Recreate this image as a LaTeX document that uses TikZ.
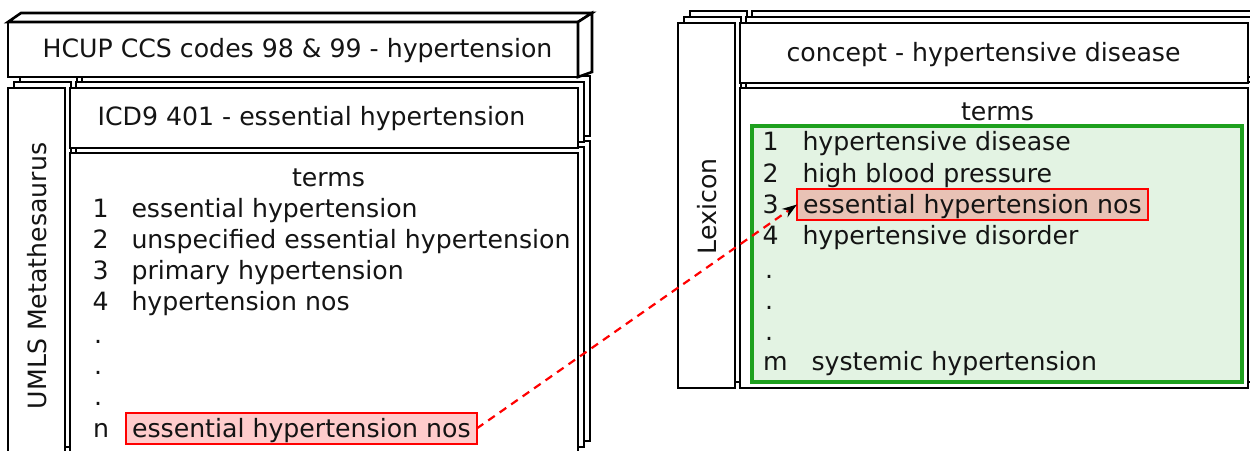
\documentclass[tikz,border=0pt]{standalone}
\usepackage{fontspec}
\setmainfont{DejaVu Sans}
\usetikzlibrary{shadows,arrows.meta}
\definecolor{grnline}{RGB}{30,160,30}
\definecolor{grnfill}{RGB}{227,243,227}
\definecolor{ink}{RGB}{20,20,20}
\begin{document}
\begin{tikzpicture}[x=1pt,y=-1pt,
  txt/.style={font=\fontsize{25.2pt}{30pt}\selectfont, inner sep=0pt, outer sep=0pt, anchor=base west, text=ink},
  box/.style={draw=black, line width=2.6pt, fill=white, inner sep=0pt, outer sep=0pt, anchor=north west},
  stack/.style={
    copy shadow={shadow xshift=12pt, shadow yshift=12pt, draw=black, fill=white, line width=2.6pt},
    copy shadow={shadow xshift=6pt, shadow yshift=6pt, draw=black, fill=white, line width=2.6pt}},
  face/.style={draw=black, line width=2.6pt, fill=white, line join=miter},
  hl/.style={txt, draw=red, line width=2.2pt, fill=red, fill opacity=0.2, text opacity=1,
    inner xsep=6pt, inner ysep=0pt, text height=24pt, text depth=7pt},
  tag/.style={txt, rotate=90},
  grnbox/.style={draw=grnline, fill=grnfill, line width=3.2pt, inner sep=0pt, outer sep=0pt, anchor=north west},
  link/.style={draw=red, line width=2.2pt, dash pattern=on 8pt off 6pt,
    -{Stealth[black, length=15pt, width=10pt]}}
]
\path[use as bounding box] (0,0) rectangle (1250,450);
\clip (0,0) rectangle (1250,450);

% ---------- left panel ----------
\node[box, stack, minimum width=57pt, minimum height=365pt] (umls) at (8,88) {};
\node[box, stack, minimum width=508pt, minimum height=300pt] (tl) at (70,153) {};
\node[box, stack, minimum width=508pt, minimum height=60pt] (icd) at (70,88) {};
\node[box, minimum width=570pt, minimum height=55pt] (hcup) at (8,22) {};
\draw[face] (hcup.north west) -- ([shift={(13,-9)}]hcup.north west)
  -- ([shift={(14,-9)}]hcup.north east) -- (hcup.north east) -- cycle;
\draw[face] (hcup.north east) -- ([shift={(14,-9)}]hcup.north east)
  -- ([shift={(14,-5)}]hcup.south east) -- (hcup.south east) -- cycle;

\node[txt] (hcupt) at (42.6,57) {HCUP CCS codes 98 \& 99 - hypertension};
\node[txt] (icdt) at (97.6,125) {ICD9 401 - essential hypertension};
\node[tag] (umlst) at (46.5,409) {UMLS Metathesaurus};
\node[txt] (tlh) at (292,186) {terms};
\node[txt] (ln1) at (92.5,217) {1};
\node[txt] (lt1) at (131.5,217) {essential hypertension};
\node[txt] (ln2) at (92.5,248) {2};
\node[txt] (lt2) at (131.5,248) {unspecified essential hypertension};
\node[txt] (ln3) at (92.5,279) {3};
\node[txt] (lt3) at (131.5,279) {primary hypertension};
\node[txt] (ln4) at (92.5,310) {4};
\node[txt] (lt4) at (131.5,310) {hypertension nos};
\node[txt] (ld1) at (94,343) {.};
\node[txt] (ld2) at (94,374) {.};
\node[txt] (ld3) at (94,405) {.};
\node[txt] (lnn) at (93,437) {n};
\node[hl] (lred) at (126,437) {essential hypertension nos};

% ---------- right panel ----------
\node[box, stack, minimum width=57pt, minimum height=365pt] (lex) at (678,23) {};
\node[box, stack, minimum width=508pt, minimum height=300pt] (tr) at (740,88) {};
\node[box, stack, minimum width=508pt, minimum height=60pt] (con) at (740,23) {};
\node[grnbox, minimum width=490pt, minimum height=256pt] (grn) at (752,126) {};

\node[txt] (cont) at (786.6,61) {concept - hypertensive disease};
\node[tag] (lext) at (716,254) {Lexicon};
\node[txt] (trh) at (961,120) {terms};
\node[txt] (rn1) at (762.5,150) {1};
\node[txt] (rt1) at (802.5,150) {hypertensive disease};
\node[txt] (rn2) at (762.5,182) {2};
\node[txt] (rt2) at (802.5,182) {high blood pressure};
\node[txt] (rn3) at (762.5,213) {3};
\node[hl] (rred) at (797,213) {essential hypertension nos};
\node[txt] (rn4) at (762.5,244) {4};
\node[txt] (rt4) at (802.5,244) {hypertensive disorder};
\node[txt] (rd1) at (765,278) {.};
\node[txt] (rd2) at (765,309) {.};
\node[txt] (rd3) at (765,340) {.};
\node[txt] (rnm) at (763,370) {m};
\node[txt] (rtm) at (811.5,370) {systemic hypertension};

% ---------- link ----------
\draw[link] (lred.east) -- (rred.west);
\end{tikzpicture}
\end{document}
